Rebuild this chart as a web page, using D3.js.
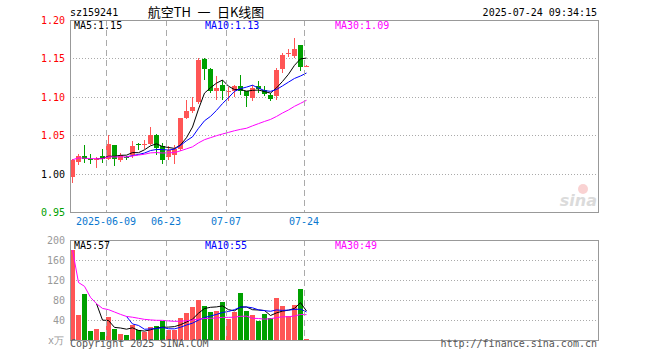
<!DOCTYPE html>
<meta charset="utf-8">
<style>
body{margin:0;background:#fff;}
text{font-family:"DejaVu Sans Mono",monospace;font-size:10px;}
.grid{stroke:#aaa;stroke-dasharray:1,2;shape-rendering:crispEdges;}
.vgrid{stroke:#aaa;stroke-dasharray:6,4;shape-rendering:crispEdges;}
.frame{fill:none;stroke:#999;shape-rendering:crispEdges;}
.bar{shape-rendering:crispEdges;}
.ma{fill:none;stroke-width:1;}
</style>
<body>
<script src="https://d3js.org/d3.v7.min.js"></script>
<script>

var dates=["05-29","05-30","06-03","06-04","06-05","06-06","06-09","06-10","06-11","06-12",
"06-13","06-16","06-17","06-18","06-19","06-20","06-23","06-24","06-25","06-26",
"06-27","06-30","07-01","07-02","07-03","07-04","07-07","07-08","07-09","07-10",
"07-11","07-14","07-15","07-16","07-17","07-18","07-21","07-22","07-23","07-24"];
var open=[0.996,1.015,1.023,1.019,1.018,1.023,1.019,1.037,1.018,1.021,
1.024,1.038,1.037,1.039,1.050,1.036,1.022,1.024,1.032,1.072,
1.081,1.093,1.149,1.136,1.107,1.115,1.107,1.107,1.114,1.107,
1.098,1.114,1.109,1.102,1.101,1.136,1.156,1.153,1.167,1.140];
var high=[1.019,1.025,1.037,1.026,1.021,1.032,1.050,1.037,1.027,1.023,
1.043,1.040,1.044,1.061,1.051,1.040,1.036,1.037,1.073,1.096,
1.100,1.150,1.150,1.137,1.127,1.122,1.113,1.115,1.128,1.108,
1.115,1.120,1.114,1.105,1.137,1.157,1.162,1.177,1.168,1.141];
var low=[0.988,1.011,1.014,1.013,1.007,1.014,1.018,1.010,1.015,1.018,
1.020,1.031,1.032,1.037,1.024,1.013,1.018,1.013,1.030,1.071,
1.079,1.090,1.122,1.105,1.096,1.096,1.094,1.100,1.102,1.087,
1.095,1.105,1.101,1.094,1.096,1.131,1.152,1.150,1.134,1.139];
var close=[1.018,1.023,1.019,1.018,1.019,1.019,1.038,1.019,1.024,1.020,
1.036,1.037,1.038,1.050,1.033,1.018,1.031,1.032,1.072,1.081,
1.087,1.148,1.136,1.107,1.111,1.107,1.108,1.114,1.107,1.101,
1.112,1.110,1.104,1.097,1.135,1.154,1.157,1.162,1.139,1.140];
var volume=[180,50,92,19,22,16,46,23,13,10,
30,20,16,26,28,38,21,21,45,55,
67,80,68,57,59,77,42,57,95,59,
50,39,52,45,85,68,48,70,102,2];

var priceTicks=[0.95,1.00,1.05,1.10,1.15,1.20];
var volTicks=[40,80,120,160,200];
var tickDates=["06-09","06-23","07-07","07-24"];
var tickLabels=["2025-06-09","06-23","07-07","07-24"];
var maPriceText=["MA5:1.15","MA10:1.13","MA30:1.09"];
var maVolText=["MA5:57","MA10:55","MA30:49"];

var RED="#ff5555", GREEN="#00a000";
var maColors=["#000000","#0000ff","#ff00ff"];
var L=70, R=598, pTop=20, pBot=212, vTop=240, vBot=340;

var svg=d3.select("body").append("svg").attr("width",660).attr("height",360);

var x=d3.scaleBand().domain(dates).range([L,L+6*dates.length-1]).paddingInner(1/6).paddingOuter(0);
var yP=d3.scaleLinear().domain([0.95,1.20]).range([pBot,pTop]);
var yV=d3.scaleLinear().domain([0,200]).range([vBot,vTop]);

// moving averages (MA30 uses what is available at the start)
function ma(arr,n,partial){
  return arr.map(function(v,i){
    if(i<n-1 && !partial) return null;
    var s=arr.slice(Math.max(0,i-n+1),i+1);
    return d3.mean(s);
  });
}
var pMA=[ma(close,5),ma(close,10),ma(close,30,true)];
var vMA=[ma(volume,5),ma(volume,10),ma(volume,30,true)];

// header
svg.append("text").attr("x",70).attr("y",16).text("sz159241");
svg.append("text").attr("x",206).attr("y",16.5).attr("text-anchor","middle")
  .style("font-family","'Noto Sans CJK SC'").style("font-size","13px").style("white-space","pre")
  .text("航空TH\u2002一\u2002日K线图");
svg.append("text").attr("x",597).attr("y",16).attr("text-anchor","end").text("2025-07-24 09:34:15");

// grids
var gP=svg.append("g"), gV=svg.append("g");
gP.selectAll(".grid").data(priceTicks.slice(1,-1)).enter().append("line").attr("class","grid")
  .attr("x1",L).attr("x2",R).attr("y1",d=>Math.round(yP(d))+0.5).attr("y2",d=>Math.round(yP(d))+0.5);
gV.selectAll(".grid").data(volTicks.slice(0,-1)).enter().append("line").attr("class","grid")
  .attr("x1",L).attr("x2",R).attr("y1",d=>yV(d)+0.5).attr("y2",d=>yV(d)+0.5);
[[pTop,pBot],[vTop,vBot]].forEach(function(r){
  svg.selectAll(null).data(tickDates).enter().append("line").attr("class","vgrid")
    .attr("x1",d=>x(d)+0.5).attr("x2",d=>x(d)+0.5).attr("y1",r[0]).attr("y2",r[1]);
});

// sina watermark
var wm=svg.append("g").attr("opacity",0.35);
wm.append("circle").attr("cx",583).attr("cy",189).attr("r",5).attr("fill","#f08080");
wm.append("text").attr("x",597).attr("y",206).attr("text-anchor","end")
  .style("font-family","'DejaVu Sans'").style("font-size","16px").style("font-weight","bold")
  .style("font-style","italic").attr("fill","#999").text("sina");

// axis labels
var pColor=d=>d>1.0? "#ff0000": d<1.0? GREEN: "#000";
svg.selectAll(".pl").data(priceTicks).enter().append("text").attr("class","pl")
  .attr("x",65).attr("y",d=>yP(d)+4).attr("text-anchor","end")
  .attr("fill",d=>pColor(+d.toFixed(2))).text(d=>d3.format(".2f")(d));
svg.selectAll(".vl").data(volTicks).enter().append("text").attr("class","vl")
  .attr("x",65).attr("y",d=>yV(d)+4).attr("text-anchor","end").attr("fill","#999").text(d=>d);
svg.append("text").attr("x",64).attr("y",344).attr("text-anchor","end").attr("fill","#999").text("x万");
svg.selectAll(".dl").data(tickDates).enter().append("text").attr("class","dl")
  .attr("x",d=>x(d)).attr("y",225).attr("text-anchor","middle").attr("fill","#0a78d0")
  .text((d,i)=>tickLabels[i]);

// candles
var idx=d3.range(dates.length);
var col=i=>close[i]>=open[i]? RED: GREEN;
var cx=i=>x(dates[i])+2.5;
gP.selectAll(".wick").data(idx).enter().append("line").attr("class","bar")
  .attr("x1",cx).attr("x2",cx).attr("y1",i=>yP(high[i])).attr("y2",i=>yP(low[i])).attr("stroke",col);
gP.selectAll(".body").data(idx).enter().append("rect").attr("class","bar")
  .attr("x",i=>x(dates[i])).attr("width",x.bandwidth())
  .attr("y",i=>yP(Math.max(open[i],close[i])))
  .attr("height",i=>Math.max(1,Math.abs(yP(open[i])-yP(close[i]))))
  .attr("fill",col);

// volume bars
gV.selectAll(".vol").data(idx).enter().append("rect").attr("class","bar")
  .attr("x",i=>x(dates[i])).attr("width",x.bandwidth())
  .attr("y",i=>yV(volume[i])).attr("height",i=>vBot-yV(volume[i])).attr("fill",col);

// MA lines
function drawMA(g,series,y){
  series.forEach(function(s,k){
    var line=d3.line().defined(i=>s[i]!=null).x(cx).y(i=>y(s[i]));
    g.append("path").attr("class","ma").attr("stroke",maColors[k]).attr("d",line(idx));
  });
}
drawMA(gP,pMA,yP);
drawMA(gV,vMA,yV);

// MA texts
var maX=[74,205,335];
maPriceText.forEach((t,k)=>svg.append("text").attr("x",maX[k]).attr("y",29).attr("fill",maColors[k]).text(t));
maVolText.forEach((t,k)=>svg.append("text").attr("x",maX[k]).attr("y",249).attr("fill",maColors[k]).text(t));

// frames
svg.append("rect").attr("class","frame").attr("x",L).attr("y",pTop).attr("width",R-L).attr("height",pBot-pTop);
svg.append("rect").attr("class","frame").attr("x",L).attr("y",vTop).attr("width",R-L).attr("height",vBot-vTop);

// footer
svg.append("text").attr("x",70).attr("y",347).attr("fill","#555").text("Copyright 2025 SINA.COM");
svg.append("text").attr("x",597).attr("y",347).attr("text-anchor","end").attr("fill","#555").text("http://finance.sina.com.cn");
</script>
</body>
</html>
